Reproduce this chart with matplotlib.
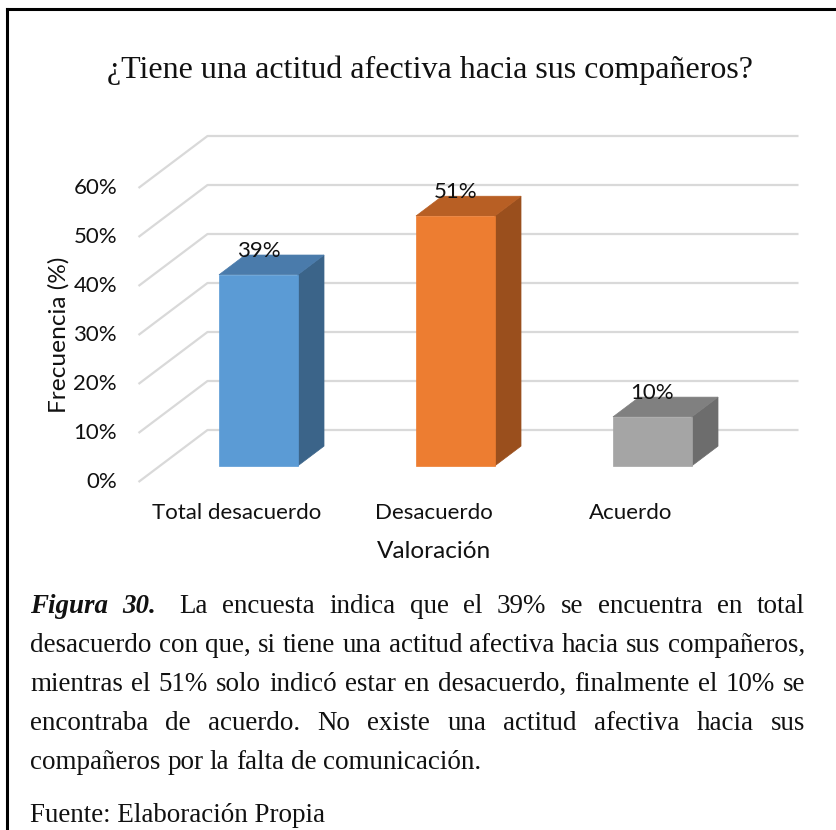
import numpy as np
import matplotlib.pyplot as plt
from matplotlib.patches import Polygon
from matplotlib.lines import Line2D
from matplotlib.transforms import Affine2D

# datos de la encuesta
categorias = ['Total desacuerdo', 'Desacuerdo', 'Acuerdo']
valores = [39, 51, 10]
etiquetas = ['39%', '51%', '10%']
ticks_y = [0, 10, 20, 30, 40, 50, 60]
ticks_lbl = ['0%', '10%', '20%', '30%', '40%', '50%', '60%']

titulo = '¿Tiene una actitud afectiva hacia sus compañeros?'
lineas = [
    ['Figura', '30.', 'La', 'encuesta', 'indica', 'que', 'el', '39%', 'se', 'encuentra', 'en', 'total'],
    'desacuerdo con que, si tiene una actitud afectiva hacia sus compañeros,'.split(),
    'mientras el 51% solo indicó estar en desacuerdo, finalmente el 10% se'.split(),
    'encontraba de acuerdo. No existe una actitud afectiva hacia sus'.split(),
    'compañeros por la falta de comunicación.'.split(),
]
fuente = 'Fuente: Elaboración Propia'

# colores (frente, arriba, lado)
colores = [('#5B9BD5', '#4A7BAB', '#3B6489'),
           ('#ED7D31', '#B85F24', '#9A4F1D'),
           ('#A5A5A5', '#808080', '#6D6D6D')]

W, H = 837, 830
sans = 'Lato'
serif = 'Liberation Serif'

fig = plt.figure(figsize=(W/100, H/100), dpi=100)
ax = fig.add_axes([0, 0, 1, 1])
# escala: 197 px por categoria, 4.9 px por punto porcentual
ax.set_xlim(-237/197, (W-237)/197)
ax.set_ylim((482-H)/4.9, 482/4.9)
ax.axis('off')

DX = 69/197   # profundidad del piso
DY = 52/4.9
f0, f1 = 0.31, 0.69
hw = 0.2

# lineas de division
for t in ticks_y:
    ax.plot([-0.5, -0.5+DX, 2.5+DX], [t, t+DY, t+DY], color='#D9D9D9', lw=1.6,
            zorder=1, solid_capstyle='butt')

for i, v in enumerate(valores):
    c_fr, c_top, c_side = colores[i]
    x0 = i - hw + f0*DX
    x1 = i + hw + f0*DX
    y0 = f0*DY
    y1 = v + f0*DY
    ddx = (f1-f0)*DX
    ddy = (f1-f0)*DY
    frente = [(x0, y0), (x1, y0), (x1, y1), (x0, y1)]
    arriba = [(x0, y1), (x1, y1), (x1+ddx, y1+ddy), (x0+ddx, y1+ddy)]
    lado = [(x1, y0), (x1+ddx, y0+ddy), (x1+ddx, y1+ddy), (x1, y1)]
    for pts, c in [(lado, c_side), (arriba, c_top), (frente, c_fr)]:
        ax.add_patch(Polygon(pts, closed=True, facecolor=c, edgecolor=c, lw=0.5, zorder=3))
    ax.text(i + f0*DX, v + f0*DY + 4.9, etiquetas[i], ha='center', va='center',
            fontsize=16, family=sans, color='#111111', zorder=5)

for t, lbl in zip(ticks_y, ticks_lbl):
    ax.text(-0.609, t, lbl, ha='right', va='center', fontsize=16, family=sans, color='#111111')

for i, cat in enumerate(categorias):
    ax.text(i, -6.33, cat, ha='center', va='center', fontsize=16, family=sans, color='#111111')

ax.text(1.0, -14.1, 'Valoración', ha='center', va='center', fontsize=17.6, family=sans, color='#111111')
ax.text(-0.905, 30, 'Frecuencia (%)', rotation=90, ha='center', va='center',
        fontsize=17.6, family=sans, color='#111111')

# coordenadas en pixeles desde arriba
px = Affine2D().scale(1, -1).translate(0, H)

fig.text(430, 70, titulo, transform=px, ha='center', va='center', fontsize=23,
         family=serif, color='#111111')

# marco
fig.add_artist(Line2D([7, W], [9, 9], transform=px, color='black', lw=2.2))
fig.add_artist(Line2D([7, 7], [9, H], transform=px, color='black', lw=2.2))

# texto justificado
r = fig.canvas.get_renderer()
xl, xr = 30, 805
# tamaño para que la segunda linea llene el ancho
prueba = fig.text(0, 0, ' '.join(lineas[1]), fontsize=17, family=serif)
fs = 17 * (xr - xl - 4) / prueba.get_window_extent(r).width
prueba.remove()

bases = [613, 652, 691, 730, 769]
for k, palabras in enumerate(lineas):
    ts = []
    for j, w in enumerate(palabras):
        estilo = dict(fontsize=fs, family=serif, color='#111111')
        if k == 0 and j < 2:
            estilo.update(fontweight='bold', style='italic')
        ts.append(fig.text(0, bases[k], w, transform=px, va='baseline', ha='left', **estilo))
    anchos = [t.get_window_extent(r).width for t in ts]
    extra = [0]*len(ts)
    if k == len(lineas) - 1:
        gap = fs*1.389*0.25
    else:
        if k == 0:
            extra[2] = 8
        gap = (xr - xl - sum(anchos) - sum(extra)) / (len(ts) - 1)
    x = xl
    for j, t in enumerate(ts):
        x += extra[j]
        t.set_x(x)
        x += anchos[j] + gap

fig.text(xl, 822, fuente, transform=px, va='baseline', ha='left', fontsize=fs,
         family=serif, color='#111111')

fig.savefig('out.png', dpi=100)
